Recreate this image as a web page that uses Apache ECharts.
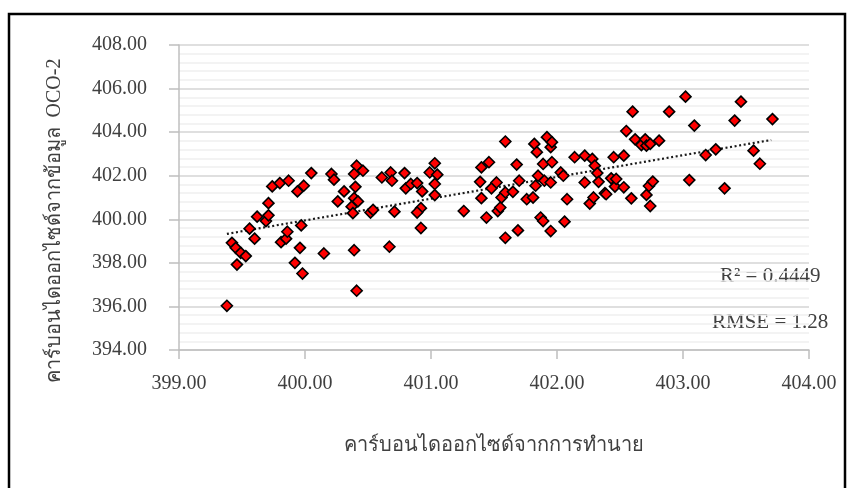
<!DOCTYPE html>
<html>
<head>
<meta charset="utf-8">
<script src="https://cdn.jsdelivr.net/npm/echarts@6/dist/echarts.min.js"></script>
<style>
html,body{margin:0;padding:0;background:#fff;}
#chart{width:847px;height:488px;}
</style>
</head>
<body>
<div id="chart"></div>
<script>
// Predicted CO2 (x) values
var predicted = [
399.38,399.42,399.45,399.49,399.53,399.46,399.56,399.60,399.62,399.69,
399.71,399.71,399.74,399.80,399.87,399.81,399.85,399.86,399.94,399.99,
400.05,399.97,399.96,399.92,399.98,400.15,400.21,400.23,400.31,400.26,
400.39,400.41,400.41,400.39,400.46,400.40,400.39,400.37,400.42,400.38,
400.52,400.54,400.61,400.68,400.69,400.71,400.67,400.79,400.80,400.84,
400.89,400.93,400.92,400.89,400.92,400.99,401.03,401.03,401.05,401.03,
401.26,401.39,401.40,401.46,401.40,401.44,401.48,401.52,401.53,401.55,
401.56,401.59,401.59,401.59,401.65,401.68,401.70,401.69,401.76,401.81,
401.82,401.84,401.83,401.85,401.87,401.89,401.89,401.90,401.92,401.95,
401.96,401.95,401.95,401.96,402.03,402.05,402.08,402.06,402.14,402.22,
402.22,402.26,402.28,402.29,402.30,402.32,402.33,402.38,402.43,402.45,
402.46,402.47,402.53,402.53,402.55,402.60,402.59,402.62,402.67,402.70,
402.71,402.71,402.73,402.76,402.74,402.74,402.81,402.89,403.02,403.05,
403.09,403.18,403.26,403.33,403.41,403.46,403.56,403.61,403.71,402.39
];
// Observed OCO-2 CO2 (y) values
var observed = [
396.03,398.92,398.69,398.46,398.31,397.92,399.57,399.11,400.12,399.92,
400.18,400.74,401.51,401.66,401.77,398.95,399.11,399.43,401.28,401.54,
402.12,399.72,398.69,398.00,397.51,398.43,402.08,401.82,401.28,400.82,
398.58,396.72,402.46,402.08,402.23,401.49,400.97,400.58,400.82,400.28,
400.31,400.43,401.92,402.15,401.77,400.35,398.74,402.12,401.42,401.62,
401.66,401.28,400.51,400.31,399.60,402.15,402.57,401.62,402.05,401.11,
400.38,401.72,402.38,402.62,400.97,400.08,401.42,401.69,400.38,400.54,
401.00,401.23,403.57,399.15,401.26,402.51,401.77,399.49,400.92,401.00,
403.46,403.08,401.54,402.00,400.08,399.92,402.54,401.77,403.77,403.31,
403.54,401.69,399.46,402.62,402.15,402.00,400.92,399.89,402.85,402.92,
401.69,400.72,402.77,401.00,402.46,402.12,401.72,401.20,401.88,402.85,
401.50,401.85,402.92,401.47,404.05,404.94,400.96,403.67,403.41,403.67,
403.38,401.12,401.53,401.73,400.61,403.46,403.61,404.94,405.63,401.80,
404.30,402.95,403.21,401.42,404.53,405.40,403.15,402.55,404.60,401.15
];
// Trend line end points as drawn in the reference
var trendX = [399.38, 403.70];
var trendY = [399.33, 403.64];

var xTicks = {min: 399, max: 404, step: 1};
var yTicks = {min: 394, max: 408, step: 2};

var xTitle = 'คาร์บอนไดออกไซด์จากการทำนาย';
var yTitle = 'คาร์บอนไดออกไซด์จากข้อมูล  OCO-2';
var r2Text = 'R² = 0.4449';
var rmseText = 'RMSE = 1.28';

var points = predicted.map(function(x, i){ return [x, observed[i]]; });
var trend = trendX.map(function(x, i){ return [x, trendY[i]]; });

var FONT = '"Liberation Serif", "Times New Roman", serif';
var chart = echarts.init(document.getElementById('chart'), null, {renderer: 'canvas'});
chart.setOption({
  animation: false,
  backgroundColor: '#ffffff',
  grid: {left: 179, right: 38, top: 45, bottom: 138, containLabel: false},
  xAxis: {
    type: 'value', min: xTicks.min, max: xTicks.max, interval: xTicks.step,
    axisLine: {show: true, onZero: false, lineStyle: {color: '#bfbfbf', width: 1.5}},
    axisTick: {show: true, length: 9, lineStyle: {color: '#bfbfbf', width: 1.5}},
    splitLine: {show: false},
    axisLabel: {margin: 24, color: '#404040', fontFamily: FONT, fontSize: 20,
      formatter: function(v){ return v.toFixed(2); }}
  },
  yAxis: {
    type: 'value', min: yTicks.min, max: yTicks.max, interval: yTicks.step,
    axisLine: {show: true, lineStyle: {color: '#bfbfbf', width: 1.5}},
    axisTick: {show: true, length: 10, lineStyle: {color: '#bfbfbf', width: 1.5}},
    splitLine: {show: true, lineStyle: {color: '#d4d4d4', width: 1.5}},
    minorTick: {show: false, splitNumber: 5},
    minorSplitLine: {show: true, lineStyle: {color: '#efefef', width: 1.5}},
    axisLabel: {margin: 32, color: '#404040', fontFamily: FONT, fontSize: 20,
      formatter: function(v){ return v.toFixed(2); }}
  },
  series: [
    {
      type: 'line', data: trend, symbol: 'none', silent: true, z: 3,
      lineStyle: {color: '#1a1a1a', width: 2.2, type: [2, 2.6], cap: 'butt'}
    },
    {
      type: 'scatter', data: points, symbol: 'diamond', symbolSize: 11, z: 4,
      itemStyle: {color: '#ff0000', borderColor: '#000000', borderWidth: 1.6, opacity: 1}
    }
  ],
  graphic: [
    {type: 'rect', shape: {x: 9, y: 14, width: 836, height: 500}, silent: true,
      style: {fill: 'none', stroke: '#000000', lineWidth: 2.5}},
    {type: 'text', x: 494, y: 446, silent: true,
      style: {text: xTitle, font: '20px ' + FONT, fill: '#404040', align: 'center', verticalAlign: 'middle'}},
    {type: 'text', x: 55, y: 221, rotation: Math.PI / 2, silent: true,
      style: {text: yTitle, font: '20px ' + FONT, fill: '#404040', align: 'center', verticalAlign: 'middle'}},
    {type: 'text', x: 720, y: 276, silent: true,
      style: {text: r2Text, font: '21px ' + FONT, fill: '#404040', align: 'left', verticalAlign: 'middle'}},
    {type: 'text', x: 712, y: 322, silent: true,
      style: {text: rmseText, font: '21px ' + FONT, fill: '#404040', align: 'left', verticalAlign: 'middle'}}
  ]
});
</script>
</body>
</html>
